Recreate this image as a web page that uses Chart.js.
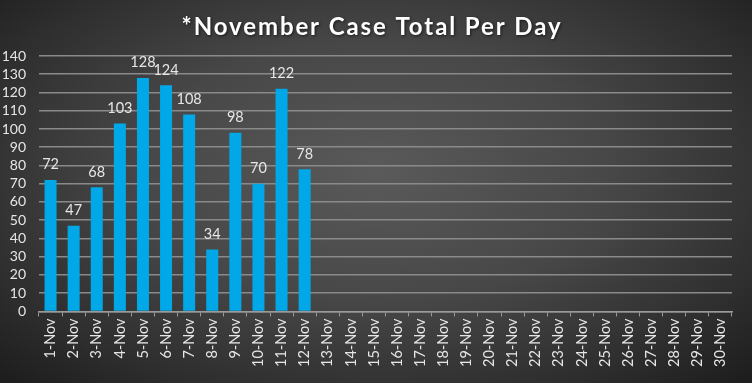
<!DOCTYPE html>
<html>
<head>
<meta charset="utf-8">
<script src="https://cdn.jsdelivr.net/npm/chart.js@4"></script>
<style>
  html, body { margin: 0; padding: 0; }
  body { width: 752px; height: 383px; overflow: hidden;
    background: radial-gradient(ellipse 70% 75% at 50% 45%, #5a5a5a 0%, #474747 45%, #2e2e2e 80%, #1e1e1e 100%); }
  #wrap { position: relative; width: 752px; height: 383px; }
</style>
</head>
<body>
<div id="wrap"><canvas id="c"></canvas></div>
<script>
const titleText = "*November Case Total Per Day";
const days = ["1-Nov","2-Nov","3-Nov","4-Nov","5-Nov","6-Nov","7-Nov","8-Nov","9-Nov","10-Nov",
  "11-Nov","12-Nov","13-Nov","14-Nov","15-Nov","16-Nov","17-Nov","18-Nov","19-Nov","20-Nov",
  "21-Nov","22-Nov","23-Nov","24-Nov","25-Nov","26-Nov","27-Nov","28-Nov","29-Nov","30-Nov"];
const cases = [72,47,68,103,128,124,108,34,98,70,122,78,
  null,null,null,null,null,null,null,null,null,null,null,null,null,null,null,null,null,null];
const yTicks = [0,10,20,30,40,50,60,70,80,90,100,110,120,130,140];

const FONT = "Lato, 'Open Sans', sans-serif";

const titlePlugin = {
  id: 'customTitle',
  afterDraw(chart) {
    const ctx = chart.ctx;
    ctx.save();
    ctx.font = "bold 24px " + FONT;
    ctx.letterSpacing = "1.9px";
    ctx.fillStyle = "#ffffff";
    ctx.textAlign = "center";
    ctx.textBaseline = "middle";
    ctx.shadowColor = "rgba(0,0,0,0.6)";
    ctx.shadowBlur = 3;
    ctx.shadowOffsetX = 1;
    ctx.shadowOffsetY = 1;
    ctx.fillText(titleText, 372, 27);
    ctx.restore();
  }
};

const labelPlugin = {
  id: 'barLabels',
  afterDatasetsDraw(chart) {
    const ctx = chart.ctx;
    const meta = chart.getDatasetMeta(0);
    ctx.save();
    ctx.font = "14.5px " + FONT;
    ctx.fillStyle = "#e6e6e6";
    ctx.textAlign = "center";
    ctx.textBaseline = "bottom";
    meta.data.forEach((bar, i) => {
      const v = chart.data.datasets[0].data[i];
      if (v === null || v === undefined) return;
      ctx.fillText(String(v), bar.x, bar.y - 8);
    });
    ctx.restore();
  }
};

new Chart(document.getElementById('c'), {
  type: 'bar',
  data: {
    labels: days,
    datasets: [{
      data: cases,
      backgroundColor: '#00a8e8',
      borderWidth: 0,
      barPercentage: 0.52,
      categoryPercentage: 1.0
    }]
  },
  options: {
    responsive: true,
    maintainAspectRatio: false,
    animation: false,
    layout: { padding: { top: 56, right: 20, bottom: 14, left: 0 } },
    plugins: { legend: { display: false }, tooltip: { enabled: false }, title: { display: false } },
    scales: {
      x: {
        grid: { display: true, drawOnChartArea: false, drawTicks: true, tickLength: 5, color: '#9a9a9a', offset: true },
        border: { display: true, color: '#9a9a9a', width: 1.5 },
        ticks: { color: '#e6e6e6', font: { size: 14.5, family: FONT }, maxRotation: 90, minRotation: 90, autoSkip: false, padding: 2 }
      },
      y: {
        min: 0, max: 140,
        afterBuildTicks(axis) { axis.ticks = yTicks.map(v => ({ value: v })); },
        afterFit(axis) { axis.width = 39; },
        grid: { color: '#8a8a8a', lineWidth: 1.5, drawTicks: false },
        border: { display: false },
        ticks: { color: '#e6e6e6', font: { size: 14, family: FONT }, padding: 13, autoSkip: false }
      }
    }
  },
  plugins: [titlePlugin, labelPlugin]
});
</script>
</body>
</html>
